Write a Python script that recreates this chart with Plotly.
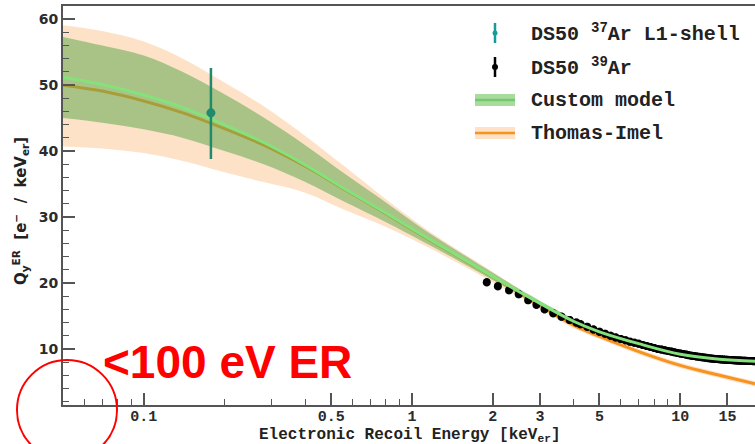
import plotly.graph_objects as go

# ---- model curves (energy grid in keV_er) ----
grid_E = [0.05, 0.07, 0.1, 0.14, 0.2, 0.28, 0.4, 0.56, 0.8, 1.1, 1.5, 2.0, 2.5, 3, 4, 5, 7, 10, 14, 19]
custom_mid = [51.2, 50.1, 48.5, 46.6, 44.0, 41.3, 37.9, 34.3, 30.6, 27.2, 24.0, 21.0, 18.7, 16.9, 14.2, 12.6, 10.8, 9.2, 8.45, 8.15]
custom_hi = [57.3, 56.0, 54.5, 52.0, 48.6, 45.1, 40.9, 36.6, 32.2, 28.2, 24.7, 21.55, 19.15, 17.3, 14.6, 12.95, 11.1, 9.5, 8.75, 8.45]
custom_lo = [45.0, 44.3, 43.3, 42.0, 40.0, 38.0, 35.3, 32.3, 29.2, 26.25, 23.3, 20.45, 18.25, 16.5, 13.8, 12.25, 10.5, 8.9, 8.15, 7.85]
ti_mid = [50.0, 49.1, 47.6, 45.8, 43.4, 40.9, 37.7, 34.2, 30.5, 27.1, 23.9, 20.9, 18.5, 16.6, 13.6, 11.9, 9.6, 7.5, 6.0, 4.7]
ti_hi = [59.1, 58.2, 56.6, 54.0, 50.4, 46.8, 42.3, 37.7, 32.7, 28.5, 24.9, 21.7, 19.1, 17.1, 14.05, 12.3, 10.0, 7.9, 6.4, 5.1]
ti_lo = [40.7, 40.4, 39.7, 38.5, 36.8, 35.3, 33.7, 31.1, 28.5, 25.8, 22.9, 20.1, 17.9, 16.1, 13.15, 11.5, 9.2, 7.1, 5.6, 4.3]

# ---- DS50 39Ar data ----
ar39_E = [1.9, 2.09, 2.3, 2.5, 2.71, 2.91, 3.12, 3.36, 3.61, 3.87, 4.1,
          4.25, 4.5, 4.75, 5.0, 5.25, 5.5, 5.75, 6.0, 6.25, 6.5, 6.75, 7.0, 7.25, 7.5, 7.75,
          8.0, 8.25, 8.5, 8.75, 9.0, 9.25, 9.5, 9.75, 10.0, 10.25, 10.5, 10.75, 11.0, 11.25,
          11.5, 11.75, 12.0, 12.25, 12.5, 12.75, 13.0, 13.25, 13.5, 13.75, 14.0, 14.25, 14.5,
          14.75, 15.0, 15.25, 15.5, 15.75, 16.0, 16.25, 16.5, 16.75, 17.0, 17.25, 17.5, 17.75,
          18.0, 18.25, 18.5, 18.75, 19.0]
ar39_Q = [20.1, 19.5, 18.9, 18.3, 17.4, 16.7, 16.0, 15.4, 14.9, 14.4, 14.0,
          13.75, 13.35, 12.95, 12.6, 12.3, 12.0, 11.75, 11.5, 11.3, 11.1, 10.95, 10.8, 10.6, 10.45, 10.3,
          10.15, 10.0, 9.9, 9.8, 9.7, 9.6, 9.5, 9.4, 9.3, 9.22, 9.14, 9.06, 8.98, 8.92,
          8.86, 8.8, 8.75, 8.7, 8.65, 8.6, 8.56, 8.52, 8.49, 8.46, 8.43, 8.41, 8.39,
          8.37, 8.35, 8.33, 8.31, 8.29, 8.27, 8.25, 8.24, 8.23, 8.22, 8.21, 8.2, 8.19,
          8.18, 8.17, 8.16, 8.15, 8.15]
ar39_err = 0.6

# ---- DS50 37Ar L1-shell ----
ar37_E = [0.178]
ar37_Q = [45.8]
ar37_err_plus = [6.8]
ar37_err_minus = [7.0]

x_tickvals = [0.1, 0.5, 1, 2, 3, 5, 10, 15]
x_ticktext = ["0.1", "0.5", "1", "2", "3", "5", "10", "15"]
x_minor = [0.06, 0.07, 0.08, 0.09, 0.2, 0.3, 0.4, 0.6, 0.7, 0.8, 0.9, 4, 6, 7, 8, 9]
y_tickvals = [10, 20, 30, 40, 50, 60]

PEACH = "#fde2c8"
GREEN_BAND = "rgba(100,170,80,0.55)"
GREEN_LINE = "#84e27c"
ORANGE = "#f7931e"
TEAL = "#1f8a6c"
MONO = "Liberation Mono"

fig = go.Figure()
# Thomas-Imel band
fig.add_trace(go.Scatter(x=grid_E, y=ti_hi, mode="lines", line=dict(width=0, shape="spline"),
                         hoverinfo="skip", showlegend=False))
fig.add_trace(go.Scatter(x=grid_E, y=ti_lo, mode="lines", line=dict(width=0, shape="spline"),
                         fill="tonexty", fillcolor=PEACH, hoverinfo="skip", showlegend=False))
# Thomas-Imel line
fig.add_trace(go.Scatter(x=grid_E, y=ti_mid, mode="lines", line=dict(color=ORANGE, width=3, shape="spline"),
                         showlegend=False, name="Thomas-Imel"))
# Custom model band
fig.add_trace(go.Scatter(x=grid_E, y=custom_hi, mode="lines", line=dict(width=0, shape="spline"),
                         hoverinfo="skip", showlegend=False))
fig.add_trace(go.Scatter(x=grid_E, y=custom_lo, mode="lines", line=dict(width=0, shape="spline"),
                         fill="tonexty", fillcolor=GREEN_BAND, hoverinfo="skip", showlegend=False))
# 39Ar data
fig.add_trace(go.Scatter(x=ar39_E, y=ar39_Q, mode="markers",
                         marker=dict(color="black", size=8),
                         error_y=dict(type="constant", value=ar39_err, color="black", thickness=3, width=0),
                         showlegend=False, name="DS50 39Ar"))
# Custom model line
fig.add_trace(go.Scatter(x=grid_E, y=custom_mid, mode="lines", line=dict(color=GREEN_LINE, width=3, shape="spline"),
                         showlegend=False, name="Custom model"))
# 37Ar data
fig.add_trace(go.Scatter(x=ar37_E, y=ar37_Q, mode="markers",
                         marker=dict(color=TEAL, size=9),
                         error_y=dict(type="data", array=ar37_err_plus, arrayminus=ar37_err_minus,
                                      color=TEAL, thickness=2.5, width=0),
                         showlegend=False, name="DS50 37Ar L1-shell"))


def px(xp):
    return (xp - 63) / 692.0


def py(yp):
    return (405 - yp) / 399.0


shapes = []
annotations = []
# manual legend
leg_items = [
    ("DS50 <sup>37</sup>Ar L1-shell", 33),
    ("DS50 <sup>39</sup>Ar", 67),
    ("Custom model", 100),
    ("Thomas-Imel", 133),
]
for text, yc in leg_items:
    annotations.append(dict(x=px(529), y=py(yc), xref="paper", yref="paper", text=text,
                            showarrow=False, xanchor="left", yanchor="middle",
                            font=dict(family=MONO, size=20, color="#222222", weight="bold")))
# teal errorbar symbol
shapes.append(dict(type="line", xref="paper", yref="paper", x0=px(495), x1=px(495), y0=py(23), y1=py(43),
                   line=dict(color="#179a9a", width=2.5)))
shapes.append(dict(type="circle", xref="paper", yref="paper", x0=px(492.5), x1=px(497.5), y0=py(30.5), y1=py(35.5),
                   fillcolor="#179a9a", line=dict(width=0)))
# black symbol
shapes.append(dict(type="line", xref="paper", yref="paper", x0=px(495), x1=px(495), y0=py(57), y1=py(77),
                   line=dict(color="black", width=2.5)))
shapes.append(dict(type="circle", xref="paper", yref="paper", x0=px(492), x1=px(498), y0=py(64), y1=py(70),
                   fillcolor="black", line=dict(width=0)))
# custom model symbol
shapes.append(dict(type="rect", xref="paper", yref="paper", x0=px(475), x1=px(515), y0=py(94), y1=py(106),
                   fillcolor="#a8dc9c", line=dict(width=0)))
shapes.append(dict(type="line", xref="paper", yref="paper", x0=px(475), x1=px(515), y0=py(100), y1=py(100),
                   line=dict(color="#74c870", width=2.5)))
# thomas-imel symbol
shapes.append(dict(type="rect", xref="paper", yref="paper", x0=px(475), x1=px(515), y0=py(127), y1=py(139),
                   fillcolor=PEACH, line=dict(width=0)))
shapes.append(dict(type="line", xref="paper", yref="paper", x0=px(475), x1=px(515), y0=py(133), y1=py(133),
                   line=dict(color=ORANGE, width=2.5)))

# red circle annotation
shapes.append(dict(type="circle", xref="paper", yref="paper", x0=px(17), x1=px(117), y0=py(460), y1=py(360),
                   line=dict(color="red", width=2)))
annotations.append(dict(x=px(101), y=py(362), xref="paper", yref="paper", text="<b>&lt;100 eV ER</b>",
                        showarrow=False, xanchor="left", yanchor="middle",
                        font=dict(family="Liberation Sans", size=46, color="#ff0000")))

# axis titles
annotations.append(dict(x=px(410), y=py(435), xref="paper", yref="paper",
                        text="Electronic Recoil Energy [keV<sub>er</sub>]",
                        showarrow=False, xanchor="center", yanchor="middle",
                        font=dict(family=MONO, size=16, color="#222222", weight="bold")))
annotations.append(dict(x=px(20), y=py(211), xref="paper", yref="paper",
                        text="Q<sub>y</sub><sup>ER</sup>&nbsp;&nbsp;[e<sup>−</sup>&nbsp;&nbsp;/&nbsp;&nbsp;keV<sub>er</sub>]",
                        showarrow=False, xanchor="center", yanchor="middle", textangle=-90,
                        font=dict(family="DejaVu Sans", size=15, color="#222222", weight="bold")))

fig.update_layout(
    width=755, height=444,
    margin=dict(l=63, r=0, t=6, b=39, autoexpand=False),
    paper_bgcolor="white", plot_bgcolor="white",
    shapes=shapes, annotations=annotations,
    showlegend=False,
)
fig.update_xaxes(type="log", range=[-1.30103, 1.27875], automargin=False,
                 tickmode="array", tickvals=x_tickvals, ticktext=x_ticktext,
                 ticks="inside", ticklen=12, tickwidth=1.5, tickcolor="#555555",
                 ticklabelstandoff=-4,
                 minor=dict(tickvals=x_minor, ticks="inside", ticklen=6, tickwidth=1.2, tickcolor="#555555"),
                 showline=True, linecolor="#555555", linewidth=2, mirror=True,
                 showgrid=False, zeroline=False,
                 tickfont=dict(family=MONO, size=15, color="#2b2b2b", weight="bold"))
fig.update_yaxes(range=[1.5, 62], automargin=False,
                 tickmode="array", tickvals=y_tickvals,
                 ticks="inside", ticklen=12, tickwidth=1.5, tickcolor="#555555",
                 minor=dict(dtick=2, tick0=0, ticks="inside", ticklen=6, tickwidth=1.2, tickcolor="#555555"),
                 showline=True, linecolor="#555555", linewidth=2, mirror=False,
                 showgrid=False, zeroline=False,
                 tickfont=dict(family="DejaVu Sans", size=14, color="#2b2b2b", weight="bold"))

fig.write_html("out.html", config={"displayModeBar": False},
               post_script="document.body.style.margin='0px';document.body.style.padding='0px';")
